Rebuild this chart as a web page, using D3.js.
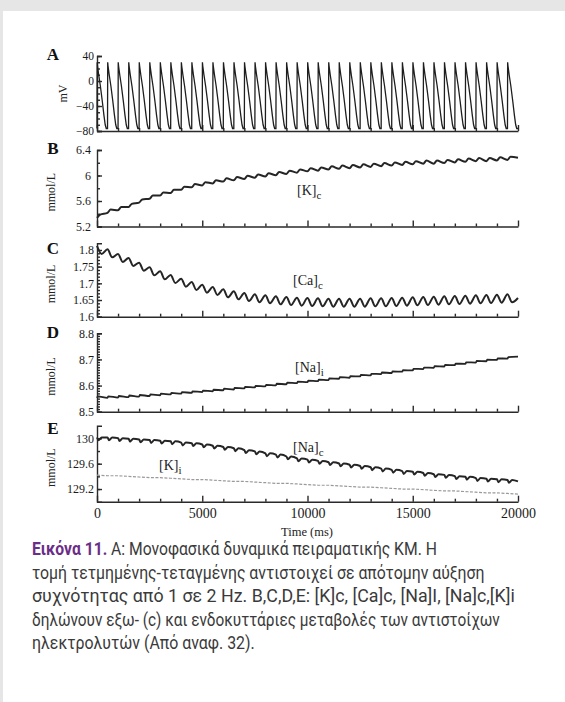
<!DOCTYPE html>
<html lang="el">
<head>
  <meta charset="UTF-8">
  <title>Εικόνα 11</title>
  <script src="https://d3js.org/d3.v7.min.js"></script>
  <style>
    body { margin: 0; background: #fff; }
    svg { display: block; }
    .axis path, .axis line { stroke: #2a2a2a; stroke-width: 1.4; fill: none; }
    .axis text { font-family: "Liberation Serif", "DejaVu Serif", serif; fill: #1a1a1a; }
    .letter { font-family: "Liberation Serif", serif; font-weight: bold; font-size: 17px; fill: #111; }
    .ylab { font-family: "Liberation Serif", serif; font-size: 12px; fill: #222; }
    .series-label { font-family: "Liberation Serif", serif; font-size: 14px; fill: #222; }
    .caption { font-family: Roboto, "Noto Sans", sans-serif; font-size: 18px; fill: #3a3a3a; }
  </style>
</head>
<body>
  <script>
    // stimulus times (ms), pacing at 2 Hz
    const beatTimes = [0, 500, 1000, 1500, 2000, 2500, 3000, 3500, 4000, 4500,
      5000, 5500, 6000, 6500, 7000, 7500, 8000, 8500, 9000, 9500,
      10000, 10500, 11000, 11500, 12000, 12500, 13000, 13500, 14000, 14500,
      15000, 15500, 16000, 16500, 17000, 17500, 18000, 18500, 19000, 19500];
    const sampleTimes = beatTimes.concat([20000]);

    // one action potential (ms after stimulus, mV)
    const apOffset = [0, 8, 25, 80, 160, 250, 330, 390, 440, 500];
    const apMv = [-76, 30, 24, 10, -8, -32, -55, -70, -76, -76];

    // concentrations at each stimulus (mmol/L)
    const kC = [5.36, 5.44, 5.48, 5.53, 5.60, 5.66, 5.71, 5.75, 5.80, 5.84,
      5.87, 5.90, 5.93, 5.95, 5.97, 5.99, 6.01, 6.03, 6.05, 6.07,
      6.09, 6.10, 6.12, 6.13, 6.14, 6.15, 6.16, 6.17, 6.18, 6.19,
      6.20, 6.21, 6.21, 6.22, 6.23, 6.24, 6.25, 6.25, 6.26, 6.27, 6.28];
    const caC = [1.800, 1.790, 1.776, 1.764, 1.750, 1.736, 1.724, 1.713, 1.702, 1.692,
      1.684, 1.677, 1.670, 1.664, 1.659, 1.655, 1.652, 1.649, 1.647, 1.645,
      1.644, 1.643, 1.642, 1.642, 1.642, 1.642, 1.643, 1.643, 1.644, 1.645,
      1.646, 1.647, 1.648, 1.649, 1.650, 1.651, 1.652, 1.653, 1.654, 1.655, 1.656];
    const naI = [8.556, 8.556, 8.557, 8.559, 8.561, 8.563, 8.566, 8.569, 8.572, 8.575,
      8.578, 8.581, 8.585, 8.588, 8.592, 8.596, 8.600, 8.604, 8.608, 8.612,
      8.616, 8.620, 8.624, 8.629, 8.633, 8.638, 8.642, 8.647, 8.651, 8.656,
      8.661, 8.666, 8.671, 8.676, 8.681, 8.686, 8.691, 8.696, 8.701, 8.706, 8.711];
    const naC = [130.00, 130.00, 129.99, 129.98, 129.97, 129.96, 129.95, 129.94, 129.92, 129.91,
      129.89, 129.87, 129.85, 129.83, 129.80, 129.78, 129.75, 129.73, 129.70, 129.67,
      129.65, 129.63, 129.61, 129.59, 129.57, 129.55, 129.53, 129.51, 129.49, 129.47,
      129.46, 129.44, 129.42, 129.41, 129.39, 129.38, 129.36, 129.35, 129.34, 129.33, 129.32];
    const kI = [129.42, 129.41, 129.41, 129.40, 129.39, 129.38, 129.38, 129.37, 129.36, 129.35,
      129.35, 129.34, 129.33, 129.32, 129.32, 129.31, 129.30, 129.29, 129.29, 129.28,
      129.27, 129.26, 129.26, 129.25, 129.24, 129.23, 129.23, 129.22, 129.21, 129.20,
      129.20, 129.19, 129.18, 129.17, 129.17, 129.16, 129.15, 129.14, 129.14, 129.13, 129.12];

    // beat-to-beat swing of each trace (peak to trough) and its shape within a beat
    const kCSwing = 0.05, caCSwing = 0.024, naISwing = 0.006, naCSwing = 0.045;
    const kCShape = { offs: [0, 150], dev: [-0.5, 0.5] };
    const caCShape = { offs: [0, 220], dev: [0.5, -0.5] };
    const naIShape = { offs: [0, 40], dev: [-0.5, 0.5] };
    const naCShape = { offs: [0, 70, 220], dev: [0.3, -0.7, 0.3] };

    // tick labels
    const xTicks = [0, 5000, 10000, 15000, 20000];
    const aTicks = [40, 0, -40, -80];
    const bTicks = [6.4, 6, 5.6, 5.2];
    const cTicks = [1.8, 1.75, 1.7, 1.65, 1.6];
    const dTicks = [8.8, 8.7, 8.6, 8.5];
    const eTicks = [130, 129.6, 129.2];

    const captionTitle = "Εικόνα 11.";
    const captionLines = [
      "Α: Μονοφασικά δυναμικά πειραματικής ΚΜ. Η",
      "τομή τετμημένης-τεταγμένης αντιστοιχεί σε απότομην αύξηση",
      "συχνότητας από 1 σε 2 Hz. B,C,D,E: [K]c, [Ca]c, [Na]I, [Na]c,[K]i",
      "δηλώνουν εξω- (c) και ενδοκυττάριες μεταβολές των αντιστοίχων",
      "ηλεκτρολυτών (Από αναφ. 32)."
    ];

    const width = 565, height = 702;
    const svg = d3.select("body").append("svg")
      .attr("width", width)
      .attr("height", height);

    // page frame: grey top and left edge
    svg.append("rect").attr("width", width).attr("height", height).attr("fill", "#e6e6e6");
    svg.append("rect").attr("x", 3).attr("y", 11).attr("width", width - 3).attr("height", height - 11).attr("fill", "#fff");

    const x = d3.scaleLinear().domain([0, 20000]).range([97, 518]);

    const panels = [
      { letter: "A", domain: [-80, 40], range: [131, 56], ticks: aTicks, minor: d3.range(-80, 41, 10), unit: "mV", unitX: 67, letterY: 60, fs: 11.5 },
      { letter: "B", domain: [5.2, 6.4], range: [226.5, 150], ticks: bTicks, minor: d3.range(5.2, 6.41, 0.2), unit: "mmol/L", unitX: 55, letterY: 154, pad: 6 },
      { letter: "C", domain: [1.6, 1.82], range: [316.7, 243.3], ticks: cTicks, minor: d3.range(1.6, 1.8001, 0.01), unit: "mmol/L", unitX: 55, letterY: 254 },
      { letter: "D", domain: [8.5, 8.8], range: [411.7, 333.3], ticks: dTicks, minor: d3.range(8.5, 8.8001, 0.01), unit: "mmol/L", unitX: 55, letterY: 338 },
      { letter: "E", domain: [129, 130.2], range: [501.7, 425.7], ticks: eTicks, minor: d3.range(129.2, 130.01, 0.2), unit: "mmol/L", unitX: 55, letterY: 434 }
    ];

    const fmt = d => d < 0 ? "\u2212" + Math.abs(d) : String(d);

    panels.forEach((p, i) => {
      p.y = d3.scaleLinear().domain(p.domain).range(p.range);
      const base = p.range[0];
      const last = i === panels.length - 1;

      // bottom axis, ticks pointing up
      const xa = svg.append("g").attr("class", "axis").attr("transform", `translate(0,${base})`)
        .call(d3.axisBottom(x).tickValues(xTicks).tickSizeInner(-6).tickSizeOuter(0).tickPadding(6)
          .tickFormat(last ? d => String(d) : ""));
      xa.selectAll("text").attr("font-size", 14);
      svg.append("g").attr("class", "axis").attr("transform", `translate(0,${base})`)
        .call(d3.axisBottom(x).tickValues(d3.range(1000, 20000, 1000).filter(v => v % 5000)).tickSize(-3).tickFormat(""))
        .select(".domain").remove();

      // left axis, ticks pointing right
      const ya = svg.append("g").attr("class", "axis").attr("transform", `translate(${x(0)},0)`)
        .call(d3.axisLeft(p.y).tickValues(p.ticks).tickSizeInner(-5).tickSizeOuter(-5).tickPadding(p.pad || 3).tickFormat(fmt));
      ya.selectAll("text").attr("font-size", p.fs || 12);
      svg.append("g").attr("class", "axis").attr("transform", `translate(${x(0)},0)`)
        .call(d3.axisLeft(p.y).tickValues(p.minor).tickSize(-3).tickFormat(""))
        .select(".domain").remove();

      svg.append("text").attr("class", "letter").attr("x", 53).attr("y", p.letterY)
        .attr("text-anchor", "middle").text(p.letter);
      svg.append("text").attr("class", "ylab")
        .attr("transform", `translate(${p.unitX},${(p.range[0] + p.range[1]) / 2 + (i === 0 ? 0 : 4)}) rotate(-90)`)
        .attr("text-anchor", "middle").text(p.unit);
    });

    // panel A: action potentials
    const apPoints = [];
    beatTimes.forEach(t => apOffset.forEach((o, j) => apPoints.push([t + o, apMv[j]])));
    svg.append("path")
      .attr("d", d3.line().x(d => x(d[0])).y(d => panels[0].y(d[1]))(apPoints))
      .attr("fill", "none").attr("stroke", "#1e1e1e").attr("stroke-width", 1.3);

    // panels B-E: concentration traces with one swing per beat
    function wave(mid, shape, swing) {
      const pts = [];
      beatTimes.forEach((t, i) => shape.offs.forEach((o, j) => pts.push([t + o, mid[i] + shape.dev[j] * swing])));
      pts.push([sampleTimes[sampleTimes.length - 1], mid[mid.length - 1]]);
      return pts;
    }
    const traces = [
      { panel: 1, pts: wave(kC, kCShape, kCSwing), w: 2 },
      { panel: 2, pts: wave(caC, caCShape, caCSwing), w: 2 },
      { panel: 3, pts: wave(naI, naIShape, naISwing), w: 1.8 },
      { panel: 4, pts: wave(naC, naCShape, naCSwing), w: 2 }
    ];
    traces.forEach(tr => {
      const y = panels[tr.panel].y;
      svg.append("path")
        .attr("d", d3.line().curve(d3.curveMonotoneX).x(d => x(d[0])).y(d => y(d[1]))(tr.pts))
        .attr("fill", "none").attr("stroke", "#252525").attr("stroke-width", tr.w);
    });
    svg.append("path")
      .attr("d", d3.line().x((d, i) => x(sampleTimes[i])).y(d => panels[4].y(d))(kI))
      .attr("fill", "none").attr("stroke", "#9a9a9a").attr("stroke-width", 1.2).attr("stroke-dasharray", "3,1.5");

    // trace labels
    const labels = [
      { base: "[K]", sub: "c", x: 297, y: 195 },
      { base: "[Ca]", sub: "c", x: 293, y: 285 },
      { base: "[Na]", sub: "i", x: 295, y: 372 },
      { base: "[Na]", sub: "c", x: 293, y: 452 },
      { base: "[K]", sub: "i", x: 159, y: 470 }
    ];
    labels.forEach(l => {
      const t = svg.append("text").attr("class", "series-label").attr("x", l.x).attr("y", l.y);
      t.append("tspan").text(l.base);
      t.append("tspan").attr("dy", 4).attr("font-size", 11).text(l.sub);
    });

    svg.append("text").attr("x", 307).attr("y", 536).attr("text-anchor", "middle")
      .attr("font-family", "Liberation Serif, serif").attr("font-size", 12.5).attr("fill", "#222")
      .text("Time (ms)");

    // caption: condensed look by squeezing each line to the reference width
    const lineWidths = [405, 453, 483, 468, 223];
    captionLines.forEach((s, i) => {
      const g = svg.append("g");
      const t = g.append("text").attr("class", "caption").attr("x", 0).attr("y", 0);
      if (i === 0) {
        t.append("tspan").attr("font-weight", "bold").attr("fill", "#6b2d87").text(captionTitle + " ");
      }
      t.append("tspan").text(s);
      const natural = t.node().getComputedTextLength();
      g.attr("transform", `translate(32,${555 + i * 23.5}) scale(${lineWidths[i] / natural},1)`);
    });
  </script>
</body>
</html>
